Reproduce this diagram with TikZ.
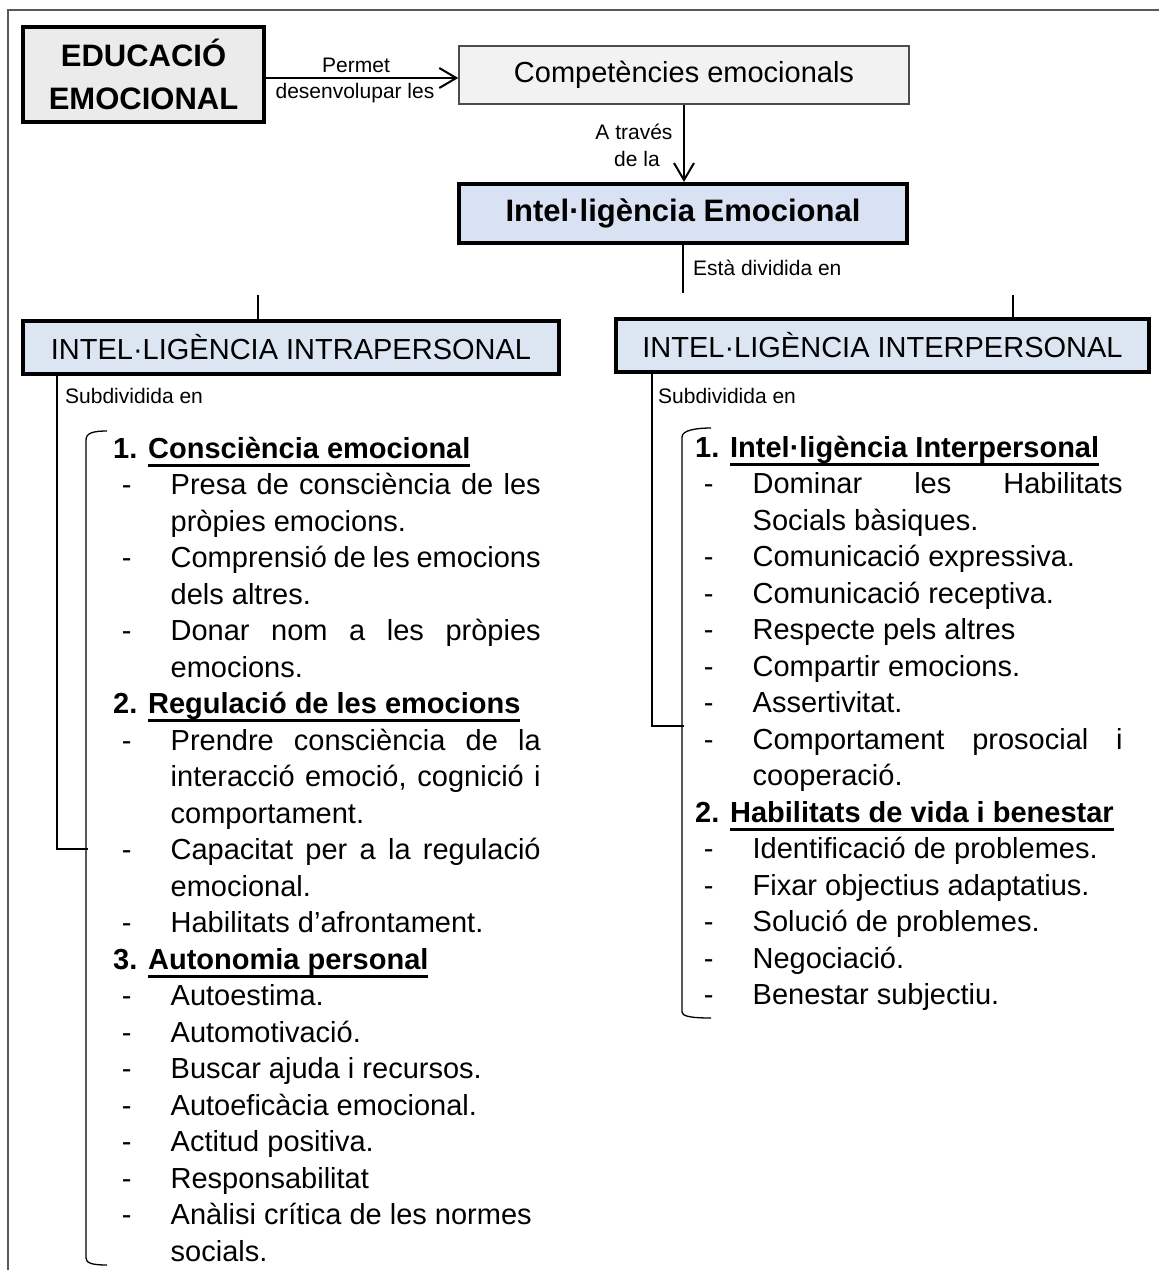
\documentclass[tikz,border=0pt]{standalone}
\usepackage{fontspec}
\setmainfont{Liberation Sans}
\usetikzlibrary{arrows.meta}
\definecolor{eduFill}{HTML}{EBEBEB}
\definecolor{compFill}{HTML}{F2F2F2}
\definecolor{ieFill}{HTML}{D9E2F3}
\definecolor{ibFill}{HTML}{DCE6F2}
\definecolor{frameCol}{HTML}{595959}
\newcommand\bodyfont{\fontsize{29}{36.5}\selectfont}
\newcommand\lblfont{\fontsize{21}{27}\selectfont}
\newcommand\myul[1]{\setbox0\hbox{#1}\rlap{\rule[-8.5pt]{\wd0}{3pt}}\box0}
\newcommand\dsh{\makebox[57.5pt][l]{\hspace{8.7pt}-}}
\newcommand\ind{\makebox[57.5pt]{}}
\newcommand\js[1]{\makebox[370pt][s]{#1}}
\newcommand\hd[2]{\textbf{#1 \myul{#2}}}
\begin{document}
\begin{tikzpicture}[x=1pt,y=-1pt,
  thickbox/.style={draw=black, line width=4pt, rectangle, inner sep=0pt},
  thinbox/.style={draw=black!70, line width=1.5pt, rectangle, inner sep=0pt},
  ln/.style={anchor=base west, inner sep=0pt, font=\bodyfont},
  lbl/.style={inner sep=0pt, font=\lblfont},
  conn/.style={line width=1.8pt},
  arr/.style={line width=2.2pt, -{Straight Barb[length=17pt,width=20pt,line width=2pt]}},
  brk/.style={line width=1.3pt},
  bigbrk/.style={line width=2pt}]
\useasboundingbox (0,0) rectangle (1159,1270);
% frame
\draw[frameCol, line width=1.5pt] (8,1280) -- (8,10) -- (1170,10);
% boxes
\node[thickbox, fill=eduFill, minimum width=241pt, minimum height=95pt, align=center,
  font=\fontsize{31}{43}\selectfont\bfseries] (edu) at (143.5,74.5) {EDUCACIÓ\\EMOCIONAL};
\node[thinbox, fill=compFill, minimum width=450pt, minimum height=58pt, font=\bodyfont] (comp) at (684,75) {Competències emocionals};
\node[thickbox, fill=ieFill, minimum width=448pt, minimum height=59pt, font=\fontsize{31}{36}\selectfont\bfseries] (intel) at (683,213.5) {Intel·ligència Emocional};
\node[thickbox, fill=ibFill, minimum width=536pt, minimum height=53pt, font=\bodyfont] (intra) at (291,347.5) {INTEL·LIGÈNCIA INTRAPERSONAL};
\node[thickbox, fill=ibFill, minimum width=533pt, minimum height=53pt, font=\bodyfont] (inter) at (882.5,345.5) {INTEL·LIGÈNCIA INTERPERSONAL};
% connectors
\draw[arr] ([yshift=-3.5pt]edu.east) -- ([yshift=-3.5pt]edu.east -| comp.west);
\draw[arr] (comp.south) -- (comp.south |- intel.north);
\coordinate (split) at (683,293);
\draw[conn] (intel.south) -- (split);
\coordinate (tickl) at (258,295);
\coordinate (tickr) at (1013,295);
\draw[conn] (tickl) -- (tickl |- intra.north);
\draw[conn] (tickr) -- (tickr |- inter.north);
\coordinate (footl) at (57,849);
\coordinate (footr) at (652,726);
\draw[bigbrk] (footl |- intra.south) -- (footl) -- ++(31,0);
\draw[bigbrk] (footr |- inter.south) -- (footr) -- ++(32,0);
% inner brackets
\draw[brk] (107,431) .. controls (93,431) and (86,433) .. (86,440) -- (86,1258) .. controls (86,1263) and (92,1265) .. (107,1265);
\draw[brk] (711,428) .. controls (697,428) and (682,430) .. (682,437) -- (682,1012) .. controls (682,1016) and (690,1018) .. (711,1018);
% labels
\node[lbl, anchor=base] (permet) at (356,72) {Permet};
\node[lbl, anchor=base] (desenv) at (355,98) {desenvolupar les};
\node[lbl, anchor=base] (atraves) at (634,139) {A través};
\node[lbl, anchor=base] (dela) at (637,166) {de la};
\node[lbl, anchor=base west] (esta) at (693,275) {Està dividida en};
\node[lbl, anchor=base west] (subl) at (65,403) {Subdividida en};
\node[lbl, anchor=base west] (subr) at (658,403) {Subdividida en};
% left column
\node[ln] (a0) at (113,458) {\hd{1.}{Consciència emocional}};
\node[ln] (a1) at (113,494.5) {\dsh\js{Presa de consciència de les}};
\node[ln] (a2) at (113,531) {\ind pròpies emocions.};
\node[ln] (a3) at (113,567.5) {\dsh\js{Comprensió de les emocions}};
\node[ln] (a4) at (113,604) {\ind dels altres.};
\node[ln] (a5) at (113,640.5) {\dsh\js{Donar nom a les pròpies}};
\node[ln] (a6) at (113,677) {\ind emocions.};
\node[ln] (a7) at (113,713.5) {\hd{2.}{Regulació de les emocions}};
\node[ln] (a8) at (113,750) {\dsh\js{Prendre consciència de la}};
\node[ln] (a9) at (113,786.5) {\ind\js{interacció emoció, cognició i}};
\node[ln] (a10) at (113,823) {\ind comportament.};
\node[ln] (a11) at (113,859.5) {\dsh\js{Capacitat per a la regulació}};
\node[ln] (a12) at (113,896) {\ind emocional.};
\node[ln] (a13) at (113,932.5) {\dsh Habilitats d’afrontament.};
\node[ln] (a14) at (113,969) {\hd{3.}{Autonomia personal}};
\node[ln] (a15) at (113,1005.5) {\dsh Autoestima.};
\node[ln] (a16) at (113,1042) {\dsh Automotivació.};
\node[ln] (a17) at (113,1078.5) {\dsh Buscar ajuda i recursos.};
\node[ln] (a18) at (113,1115) {\dsh Autoeficàcia emocional.};
\node[ln] (a19) at (113,1151.5) {\dsh Actitud positiva.};
\node[ln] (a20) at (113,1188) {\dsh Responsabilitat};
\node[ln] (a21) at (113,1224.5) {\dsh Anàlisi crítica de les normes};
\node[ln] (a22) at (113,1261) {\ind socials.};
% right column
\node[ln] (b0) at (695,457) {\hd{1.}{Intel·ligència Interpersonal}};
\node[ln] (b1) at (695,493.5) {\dsh\js{Dominar les Habilitats}};
\node[ln] (b2) at (695,530) {\ind Socials bàsiques.};
\node[ln] (b3) at (695,566.5) {\dsh Comunicació expressiva.};
\node[ln] (b4) at (695,603) {\dsh Comunicació receptiva.};
\node[ln] (b5) at (695,639.5) {\dsh Respecte pels altres};
\node[ln] (b6) at (695,676) {\dsh Compartir emocions.};
\node[ln] (b7) at (695,712.5) {\dsh Assertivitat.};
\node[ln] (b8) at (695,749) {\dsh\js{Comportament prosocial i}};
\node[ln] (b9) at (695,785.5) {\ind cooperació.};
\node[ln] (b10) at (695,822) {\hd{2.}{Habilitats de vida i benestar}};
\node[ln] (b11) at (695,858.5) {\dsh Identificació de problemes.};
\node[ln] (b12) at (695,895) {\dsh Fixar objectius adaptatius.};
\node[ln] (b13) at (695,931.5) {\dsh Solució de problemes.};
\node[ln] (b14) at (695,968) {\dsh Negociació.};
\node[ln] (b15) at (695,1004.5) {\dsh Benestar subjectiu.};
\end{tikzpicture}
\end{document}
